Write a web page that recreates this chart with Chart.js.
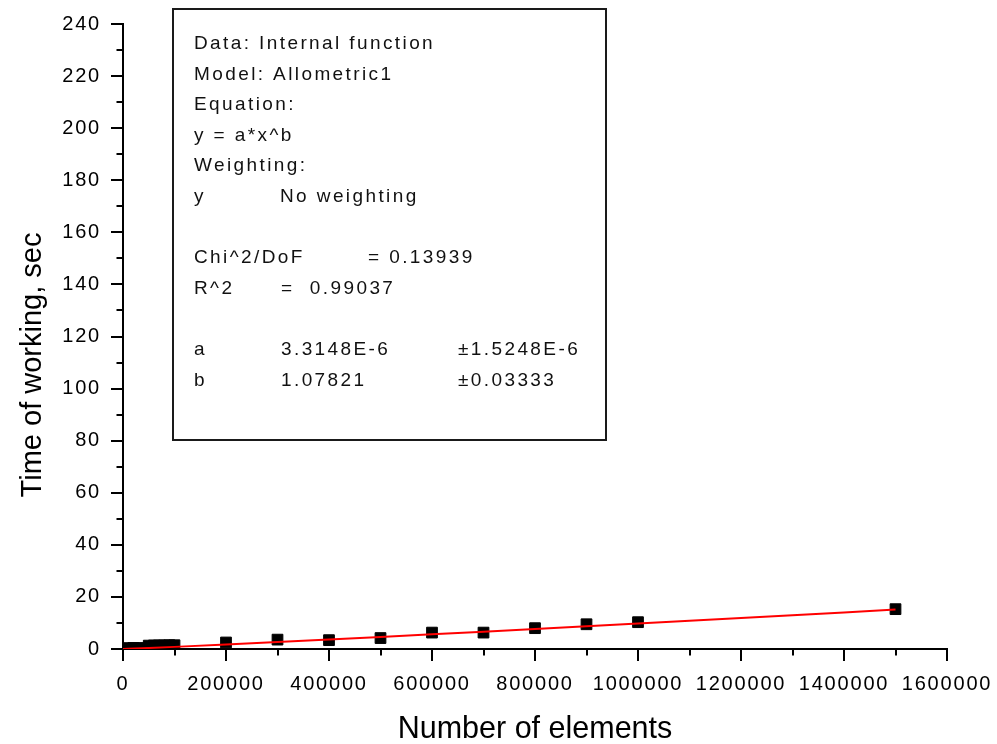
<!DOCTYPE html>
<html>
<head>
<meta charset="utf-8">
<script src="https://cdn.jsdelivr.net/npm/chart.js@4/dist/chart.umd.min.js"></script>
<style>
  html, body { margin: 0; padding: 0; background: #fff; }
  #wrap { width: 997px; height: 744px; }
</style>
</head>
<body>
<div id="wrap"><canvas id="c" width="997" height="744"></canvas></div>
<script>
// Measured run times (sec) against number of elements
const elements = [10000, 20000, 30000, 50000, 60000, 70000, 80000, 90000, 100000,
                  200000, 300000, 400000, 500000, 600000, 700000, 800000, 900000, 1000000, 1500000];
const seconds  = [0.35, 0.4, 0.4, 1.3, 1.35, 1.4, 1.4, 1.45, 1.45,
                  2.5, 3.6, 3.4, 4.2, 6.3, 6.3, 8.0, 9.5, 10.3, 15.3];

// Allometric1 fit, y = a*x^b with a = 3.3148E-6, b = 1.07821, tabulated
const fitX = [0, 10000, 50000, 100000, 200000, 300000, 400000, 500000, 600000, 700000,
              800000, 900000, 1000000, 1100000, 1200000, 1300000, 1400000, 1500000];
const fitY = [0, 0.068, 0.386, 0.816, 1.722, 2.667, 3.637, 4.625, 5.630, 6.647,
              7.679, 8.718, 9.766, 10.823, 11.887, 12.958, 14.036, 15.121];

// Axis ticks
const xTicks = [0, 200000, 400000, 600000, 800000, 1000000, 1200000, 1400000, 1600000];
const xMinor = [100000, 300000, 500000, 700000, 900000, 1100000, 1300000, 1500000];
const yTicks = [0, 20, 40, 60, 80, 100, 120, 140, 160, 180, 200, 220, 240];
const yMinor = [10, 30, 50, 70, 90, 110, 130, 150, 170, 190, 210, 230];

const xTitle = 'Number of elements';
const yTitle = 'Time of working, sec';

// Fit report text, one row per line; blank rows keep the spacing
const reportRows = [
  ['Data: Internal function'],
  ['Model: Allometric1'],
  ['Equation:'],
  ['y = a*x^b'],
  ['Weighting:'],
  ['y', 'No weighting'],
  [],
  ['Chi^2/DoF', '= 0.13939'],
  ['R^2', '=  0.99037'],
  [],
  ['a', '3.3148E-6', '\u00b11.5248E-6'],
  ['b', '1.07821', '\u00b10.03333']
];

const FONT = '"Liberation Sans", Arial, sans-serif';
const TICK_SPACING = '1.8px';

const decor = {
  id: 'decor',
  beforeLayout(chart) { chart.ctx.letterSpacing = TICK_SPACING; },
  beforeDraw(chart) { chart.ctx.letterSpacing = TICK_SPACING; },
  afterDraw(chart) {
    const ctx = chart.ctx;
    const xs = chart.scales.x, ys = chart.scales.y;
    const area = chart.chartArea;
    ctx.save();
    ctx.letterSpacing = '0px';

    // minor tick marks
    ctx.strokeStyle = '#000';
    ctx.lineWidth = 2;
    ctx.beginPath();
    xMinor.forEach(v => {
      const px = Math.round(xs.getPixelForValue(v));
      ctx.moveTo(px, area.bottom);
      ctx.lineTo(px, area.bottom + 6.5);
    });
    yMinor.forEach(v => {
      const py = Math.round(ys.getPixelForValue(v));
      ctx.moveTo(area.left, py);
      ctx.lineTo(area.left - 6.5, py);
    });
    ctx.stroke();

    // axis titles
    ctx.fillStyle = '#000';
    ctx.textAlign = 'center';
    ctx.textBaseline = 'alphabetic';
    ctx.font = '30.5px ' + FONT;
    ctx.fillText(xTitle, (area.left + area.right) / 2, 738);
    ctx.save();
    ctx.font = '29px ' + FONT;
    ctx.translate(41, 365);
    ctx.rotate(-Math.PI / 2);
    ctx.fillText(yTitle, 0, 0);
    ctx.restore();

    // fit report box
    const bx = 173, by = 9, bw = 433, bh = 431;
    ctx.fillStyle = '#fff';
    ctx.fillRect(bx, by, bw, bh);
    ctx.strokeStyle = '#1a1a1a';
    ctx.lineWidth = 2;
    ctx.strokeRect(bx, by, bw, bh);

    ctx.fillStyle = '#111';
    ctx.font = '19px ' + FONT;
    ctx.letterSpacing = '2.4px';
    ctx.textAlign = 'left';
    const colX = {
      0: [194],
      5: [194, 280],
      7: [194, 368],
      8: [194, 281],
      10: [194, 281, 458],
      11: [194, 281, 458]
    };
    reportRows.forEach((row, k) => {
      const y = 49 + 30.6 * k;
      const cols = colX[k] || colX[0];
      row.forEach((txt, j) => ctx.fillText(txt, cols[j], y));
    });
    ctx.restore();
  }
};

const tickFont = { family: FONT, size: 20 };

new Chart(document.getElementById('c'), {
  type: 'scatter',
  data: {
    datasets: [
      {
        label: 'Allometric1 fit',
        data: fitX.map((x, i) => ({ x, y: fitY[i] })),
        showLine: true,
        borderColor: '#ff0000',
        borderWidth: 2,
        pointRadius: 0,
        fill: false,
        order: 0,
        clip: 0
      },
      {
        label: 'Time of working',
        data: elements.map((x, i) => ({ x, y: seconds[i] })),
        pointStyle: 'rect',
        pointRadius: 7.6,
        backgroundColor: '#000',
        borderColor: '#000',
        borderWidth: 1,
        showLine: false,
        order: 1,
        clip: 0
      }
    ]
  },
  options: {
    responsive: false,
    devicePixelRatio: 1,
    animation: false,
    layout: { padding: { top: 24, right: 50, left: 0, bottom: 0 } },
    plugins: { legend: { display: false }, tooltip: { enabled: false } },
    scales: {
      x: {
        type: 'linear',
        min: xTicks[0],
        max: xTicks[xTicks.length - 1],
        afterBuildTicks: s => { s.ticks = xTicks.map(v => ({ value: v })); },
        afterFit: s => { s.height = 95; s.paddingLeft = 0; s.paddingRight = 0; },
        ticks: {
          font: tickFont, color: '#000', padding: 11,
          maxRotation: 0, minRotation: 0, autoSkip: false,
          callback: v => String(v)
        },
        grid: { drawOnChartArea: false, drawTicks: true, tickLength: 12,
                tickColor: '#000', tickWidth: 2, lineWidth: 2, color: '#000' },
        border: { display: true, color: '#000', width: 2 }
      },
      y: {
        type: 'linear',
        min: yTicks[0],
        max: yTicks[yTicks.length - 1],
        afterBuildTicks: s => { s.ticks = yTicks.map(v => ({ value: v })); },
        afterFit: s => { s.width = 123; s.paddingTop = 0; s.paddingBottom = 0; },
        ticks: {
          font: tickFont, color: '#000', padding: 10, autoSkip: false,
          callback: v => String(v)
        },
        grid: { drawOnChartArea: false, drawTicks: true, tickLength: 12,
                tickColor: '#000', tickWidth: 2, lineWidth: 2, color: '#000' },
        border: { display: true, color: '#000', width: 2 }
      }
    }
  },
  plugins: [decor]
});
</script>
</body>
</html>
